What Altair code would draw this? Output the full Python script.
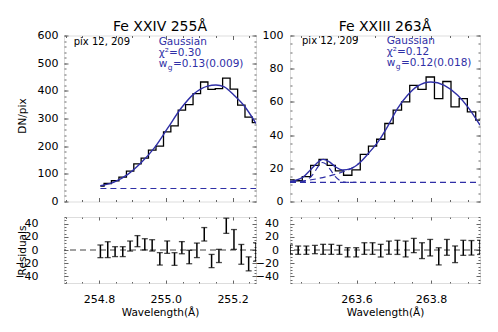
import altair as alt
import pandas as pd

FONT = "DejaVu Sans"
BLUE = "#2f2fa6"
FRAME = "#666666"

# ---------------- values ----------------
# Fe XXIV 255 A
wl_255 = [254.804, 254.826, 254.848, 254.871, 254.893, 254.915, 254.937, 254.959,
          254.982, 255.004, 255.026, 255.048, 255.070, 255.093, 255.115, 255.137,
          255.159, 255.181, 255.204, 255.226, 255.248, 255.270]
counts_255 = [56, 65, 75, 88, 110, 136, 157, 186, 200, 252, 273, 330, 350, 390,
              432, 405, 408, 446, 406, 348, 305, 285]
resid_255 = [-2, 0.5, -2.5, -2.5, 6, 13.4, 8.6, 7, -13.4, 4.3, -13.7, 3.5, -10.6,
             -0.5, 23.8, -16.7, -9, 36.7, 16, -6.6, -21, -3]
err_255 = [9.6, 12, 7.5, 7.5, 7.6, 8.4, 8.5, 8.6, 9.4, 9.4, 9.6, 9.2, 10.2, 11,
           10.2, 10, 10, 11.5, 15, 15, 10.6, 14]
fitwl_255 = [254.804, 254.845, 254.885, 254.925, 254.965, 255.005, 255.045, 255.085,
             255.125, 255.150, 255.175, 255.205, 255.235, 255.270]
fit_255 = [57, 70, 97, 139, 193, 264, 336, 390, 417, 421, 414, 383, 345, 282]
bgwl_255 = [254.804, 255.270]
bg_255 = [47, 47]

# Fe XXIII 263 A
wl_263 = [263.421, 263.443, 263.465, 263.488, 263.510, 263.532, 263.554, 263.576,
          263.599, 263.621, 263.643, 263.665, 263.687, 263.710, 263.732, 263.754,
          263.776, 263.798, 263.821, 263.843, 263.865, 263.887, 263.909, 263.932]
counts_263 = [13, 12.5, 15, 21.8, 25.4, 21.8, 18.4, 15.8, 19, 28.4, 33.4, 37.5,
              47, 55, 60, 70, 67.5, 75, 62, 72.3, 57, 62, 54, 49]
resid_263 = [0.5, -0.3, -0.3, 0.7, 1, 1, 0.2, -3.5, -3.5, 2.2, 2.2, -1, 3.5, 4,
             1.5, 6.8, -1, 3.5, -9.6, 4, -6.5, 3.3, 3.3, 4]
err_263 = [7, 6.3, 6.3, 6.3, 7.6, 7.6, 6.8, 7, 7, 8.8, 8.8, 9.6, 10, 10.7, 12,
           10.8, 12, 12.5, 13, 12, 12.6, 11.4, 11, 10.7]
fitwl_263 = [263.421, 263.455, 263.477, 263.499, 263.510, 263.526, 263.544, 263.562,
             263.585, 263.607, 263.634, 263.661, 263.683, 263.710, 263.737, 263.764,
             263.800, 263.836, 263.872, 263.899, 263.932]
fit_263 = [12.0, 14.5, 19.3, 24.2, 25.4, 24.0, 20.8, 19.0, 19.8, 23.0, 29.5, 37.0,
           45.0, 56.0, 64.0, 69.5, 72.0, 70.0, 64.0, 57.0, 46.0]
c1wl_263 = [263.421, 263.455, 263.470, 263.485, 263.498, 263.508, 263.518, 263.530,
            263.543, 263.556, 263.570, 263.600]
c1_263 = [11.5, 12.0, 13.5, 17.0, 21.5, 23.5, 22.5, 19.0, 15.0, 12.5, 11.6, 11.5]
c2wl_263 = [263.421, 263.460, 263.500, 263.530, 263.560, 263.585, 263.607]
c2_263 = [11.8, 12.5, 14.0, 15.6, 17.6, 19.8, 23.0]
bgwl_263 = [263.421, 263.932]
bg_263 = [11.5, 11.5]

titles = ["Fe XXIV 255Å", "Fe XXIII 263Å"]
pix_text = "pix 12, 209"
model_text = "Gaussian"
chi_text = ["χ²=0.30", "χ²=0.12"]
wg_text = ["=0.13(0.009)", "=0.12(0.018)"]

ticks_255 = [254.8, 255.0, 255.2]
minor_255 = [254.70, 254.75, 254.80, 254.85, 254.90, 254.95, 255.00, 255.05,
             255.10, 255.15, 255.20, 255.25]
ticks_263 = [263.6, 263.8]
minor_263 = [263.45, 263.50, 263.55, 263.60, 263.65, 263.70, 263.75, 263.80,
             263.85, 263.90]
yt_255 = [0, 100, 200, 300, 400, 500, 600]
yt_263 = [0, 20, 40, 60, 80, 100]
yt_res = [-40, -20, 0, 20, 40]

XD_255 = [254.695, 255.27]
XD_263 = [263.421, 263.932]
YD_255 = [0, 600]
YD_263 = [0, 100]
YD_RES = [-50, 50]


def scales(xd, yd):
    return (alt.Scale(domain=xd, nice=False, zero=False),
            alt.Scale(domain=yd, nice=False, zero=False))


def tick_axis(orient, vals, size):
    return alt.Axis(orient=orient, values=vals, labels=False, ticks=True,
                    tickSize=size, offset=-size, domain=False, grid=False,
                    title=None, tickColor=FRAME, tickWidth=1)


def axis_layers(xd, yd, xmaj, xmin, ymaj, ymin, xl, yl, xlab, ylab):
    xs, ys = scales(xd, yd)
    df = pd.DataFrame({"ax": [xd[0]], "ay": [yd[0]]})

    def L(xa, ya):
        return alt.Chart(df).mark_point(opacity=0, size=0).encode(
            x=alt.X("ax:Q", scale=xs, axis=xa),
            y=alt.Y("ay:Q", scale=ys, axis=ya))

    return [
        L(tick_axis("bottom", xmaj, xl), tick_axis("left", ymaj, yl)),
        L(tick_axis("bottom", xmin, xl / 2), tick_axis("left", ymin, yl / 2)),
        L(tick_axis("top", xmaj, xl), tick_axis("right", ymaj, yl)),
        L(tick_axis("top", xmin, xl / 2), tick_axis("right", ymin, yl / 2)),
        L(xlab, ylab),
    ]


def ylabel_axis(vals, pad, title, ty):
    if title:
        kw = dict(title=title, titleFont=FONT, titleFontSize=10.5,
                  titleFontWeight="normal", titleColor="black",
                  titleX=-39, titleY=ty, titleBaseline="alphabetic",
                  titleAlign="center")
    else:
        kw = dict(title=None)
    return alt.Axis(orient="left", values=vals, ticks=False, domain=False,
                    grid=False, labelPadding=pad, labelFont=FONT,
                    labelFontSize=11, labelColor="black", labelFlush=False,
                    labelOverlap=False, format="d", **kw)


def xlabel_axis(vals):
    return alt.Axis(orient="bottom", values=vals, ticks=False, domain=False,
                    grid=False, labelPadding=10, labelFont=FONT,
                    labelFontSize=11, labelColor="black", labelFlush=False,
                    labelOverlap=False, format=".1f",
                    title="Wavelength(Å)", titleFont=FONT, titleFontSize=10.5,
                    titleFontWeight="normal", titleColor="black",
                    titleY=32, titleBaseline="alphabetic")


def line(xs, ys, wl, v, color, width=1.3, dash=None, interp="monotone"):
    df = pd.DataFrame({"wl": wl, "v": v})
    kw = dict(color=color, strokeWidth=width, clip=True, interpolate=interp)
    if dash:
        kw["strokeDash"] = dash
    return alt.Chart(df).mark_line(**kw).encode(
        x=alt.X("wl:Q", scale=xs, axis=None),
        y=alt.Y("v:Q", scale=ys, axis=None))


def txt(s, x, y, size, color, align="left"):
    return alt.Chart(pd.DataFrame({"t": [s]})).mark_text(
        align=align, baseline="alphabetic", font=FONT, fontSize=size,
        color=color).encode(x=alt.value(x), y=alt.value(y), text="t:N")


def annotations(i, xp, xg, base):
    return [
        txt(pix_text, xp, base[0], 10, "black"),
        txt(model_text, xg, base[0], 10.5, BLUE),
        txt(chi_text[i], xg, base[1], 10.5, BLUE),
        txt("w", xg, base[2], 10.5, BLUE),
        txt("g", xg + 9, base[2] + 3, 7.5, BLUE),
        txt(wg_text[i], xg + 14.3, base[2], 10.5, BLUE),
    ]


def top_panel(i, wl, counts, fitwl, fit, dashed, xd, yd, xmaj, xmin, ymaj, ymin,
              lpad, ytitle, w, xp, xg, base):
    xs, ys = scales(xd, yd)
    layers = axis_layers(xd, yd, xmaj, xmin, ymaj, ymin, 4, 4, None,
                         ylabel_axis(ymaj, lpad, ytitle, 80))
    layers.append(line(xs, ys, wl, counts, "black", 1.3, interp="step"))
    for dw, dv in dashed:
        layers.append(line(xs, ys, dw, dv, BLUE, 1.2, dash=[6, 4]))
    layers.append(line(xs, ys, fitwl, fit, BLUE, 1.4))
    layers += annotations(i, xp, xg, base)
    layers.append(txt(titles[i], w / 2, -4.3, 14, "black", align="center"))
    return alt.layer(*layers).resolve_axis(x="independent", y="independent").properties(
        width=w, height=166)


def res_panel(wl, res, err, xd, xmaj, xmin, lpad, ytitle, w):
    xs, ys = scales(xd, YD_RES)
    ymin = list(range(-50, 51, 5))
    layers = axis_layers(xd, YD_RES, xmaj, xmin, yt_res, ymin, 3, 4,
                         xlabel_axis(xmaj), ylabel_axis(yt_res, lpad, ytitle, 33))
    zero = alt.Chart(pd.DataFrame({"z": [0]})).mark_rule(
        color="#444444", strokeDash=[6, 4], strokeWidth=1.2).encode(
        y=alt.Y("z:Q", scale=ys, axis=None))
    layers.append(zero)
    df = pd.DataFrame({"wl": wl, "r": res, "e": err})
    df["lo"] = df["r"] - df["e"]
    df["hi"] = df["r"] + df["e"]
    base = alt.Chart(df)
    x = alt.X("wl:Q", scale=xs, axis=None)
    layers.append(base.mark_rule(color="black", strokeWidth=1.5, clip=True).encode(
        x=x, y=alt.Y("lo:Q", scale=ys, axis=None), y2="hi:Q"))
    for f in ["lo", "hi"]:
        layers.append(base.mark_tick(orient="horizontal", size=6, thickness=1.3,
                                     color="black", clip=True).encode(
            x=x, y=alt.Y(f + ":Q", scale=ys, axis=None)))
    return alt.layer(*layers).resolve_axis(x="independent", y="independent").properties(
        width=w, height=66)


tl = top_panel(0, wl_255, counts_255, fitwl_255, fit_255, [(bgwl_255, bg_255)],
               XD_255, YD_255, ticks_255, minor_255, yt_255, list(range(0, 601, 20)),
               6, "DN/pix", 192, 9.7, 94.7, [9, 20, 31])
tr = top_panel(1, wl_263, counts_263, fitwl_263, fit_263,
               [(bgwl_263, bg_263), (c1wl_263, c1_263), (c2wl_263, c2_263)],
               XD_263, YD_263, ticks_263, minor_263, yt_263, list(range(0, 101, 5)),
               7, None, 190, 12, 96.7, [8.5, 19.5, 30])
bl = res_panel(wl_255, resid_255, err_255, XD_255, ticks_255, minor_255, 26,
               "Residuals", 192)
br = res_panel(wl_263, resid_263, err_263, XD_263, ticks_263, minor_263, 11.5,
               None, 190)

chart = alt.concat(tl, tr, bl, br, columns=2, spacing={"row": 15.5, "column": 34},
                   bounds="flush", align="each").properties(
    padding={"left": 6, "top": 11.5, "right": 5, "bottom": 5}
).configure_view(stroke=FRAME, strokeWidth=1).configure(background="white")

chart.save("out.html", embed_options={"renderer": "svg", "actions": False})
